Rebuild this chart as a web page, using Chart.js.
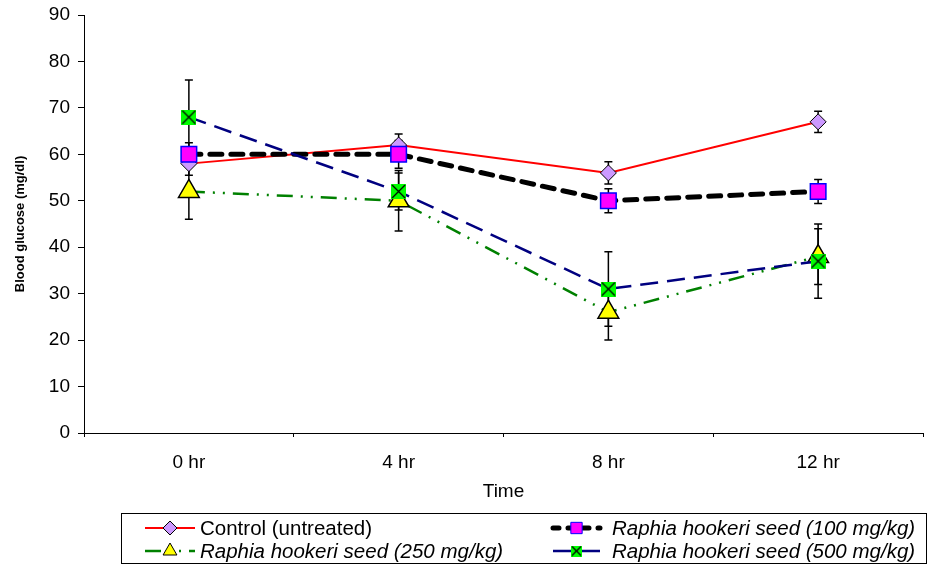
<!DOCTYPE html>
<html>
<head>
<meta charset="utf-8">
<script src="https://cdn.jsdelivr.net/npm/chart.js@4/dist/chart.umd.min.js"></script>
<style>
  html, body { margin: 0; padding: 0; background: #fff; overflow: hidden; }
  #wrap { width: 928px; height: 565px; }
  canvas { display: block; }
</style>
</head>
<body>
<div id="wrap"><canvas id="glucoseChart" width="928" height="565"></canvas></div>
<script>
// data
var categories = ['0 hr', '4 hr', '8 hr', '12 hr'];
var seriesNames = ['Control (untreated)', 'Raphia hookeri seed (100 mg/kg)',
                   'Raphia hookeri seed (250 mg/kg)', 'Raphia hookeri seed (500 mg/kg)'];
var control = [58, 62, 56, 67];
var controlErr = [2.5, 2.4, 2.4, 2.3];
var dose100 = [60, 60, 50, 52];
var dose100Err = [2.5, 3, 2.6, 2.6];
var dose250 = [52, 50, 26, 38];
var dose250Err = [6, 6.5, 6, 6];
var dose500 = [68, 52, 31, 37];
var dose500Err = [8, 4, 8, 8];
var yTicks = [0, 10, 20, 30, 40, 50, 60, 70, 80, 90];

var FONT = "'Liberation Sans', Arial, sans-serif";

// green square with a black cross, like the excel marker
function crossSquare(size) {
    var c = document.createElement('canvas');
    c.width = size; c.height = size;
    var g = c.getContext('2d');
    g.fillStyle = '#00FF00';
    g.fillRect(0, 0, size, size);
    g.strokeStyle = '#000';
    g.lineWidth = 1.3;
    g.beginPath();
    g.moveTo(1, 1); g.lineTo(size - 1, size - 1);
    g.moveTo(size - 1, 1); g.lineTo(1, size - 1);
    g.stroke();
    return c;
}
var crossBig = crossSquare(15);
var crossSmall = crossSquare(11);

var errors = [controlErr, dose100Err, dose250Err, dose500Err];

var errorBars = {
    id: 'errorBars',
    beforeDatasetsDraw: function(chart) {
        var ctx = chart.ctx;
        var y = chart.scales.y;
        ctx.save();
        ctx.strokeStyle = '#000';
        ctx.lineWidth = 1.5;
        chart.data.datasets.forEach(function(ds, i) {
            var meta = chart.getDatasetMeta(i);
            meta.data.forEach(function(pt, j) {
                var v = ds.data[j], e = errors[i][j];
                var top = y.getPixelForValue(v + e), bot = y.getPixelForValue(v - e);
                ctx.beginPath();
                ctx.moveTo(pt.x, top); ctx.lineTo(pt.x, bot);
                ctx.moveTo(pt.x - 4, top); ctx.lineTo(pt.x + 4, top);
                ctx.moveTo(pt.x - 4, bot); ctx.lineTo(pt.x + 4, bot);
                ctx.stroke();
            });
        });
        ctx.restore();
    }
};

var boxLegend = {
    id: 'boxLegend',
    afterDraw: function(chart) {
        var ctx = chart.ctx;
        ctx.save();
        ctx.strokeStyle = '#000';
        ctx.lineWidth = 1;
        ctx.strokeRect(121.5, 513.5, 805, 50);
        var slots = [
            {x0: 145, x1: 195, tx: 200, y: 528},
            {x0: 553, x1: 600, tx: 612, y: 528},
            {x0: 145, x1: 195, tx: 200, y: 551},
            {x0: 553, x1: 600, tx: 612, y: 551}
        ];
        chart.data.datasets.forEach(function(ds, i) {
            var s = slots[i];
            ctx.save();
            ctx.strokeStyle = ds.borderColor;
            ctx.lineWidth = ds.borderWidth;
            ctx.lineCap = ds.borderCapStyle || 'butt';
            ctx.setLineDash(ds.legendDash || []);
            ctx.beginPath();
            ctx.moveTo(s.x0, s.y); ctx.lineTo(s.x1, s.y);
            ctx.stroke();
            ctx.restore();
            var style = ds.pointStyle === crossBig ? crossSmall : ds.pointStyle;
            ctx.fillStyle = ds.pointBackgroundColor;
            ctx.strokeStyle = ds.pointBorderColor;
            ctx.lineWidth = 1;
            ctx.setLineDash([]);
            Chart.helpers.drawPoint(ctx, {pointStyle: style, radius: ds.legendRadius, borderWidth: 1, rotation: 0},
                (s.x0 + s.x1) / 2, s.y);
            ctx.fillStyle = '#000';
            ctx.font = (i === 0 ? '' : 'italic ') + '20.5px ' + FONT;
            ctx.textBaseline = 'middle';
            ctx.textAlign = 'left';
            ctx.fillText(seriesNames[i], s.tx, s.y + 1);
        });
        ctx.restore();
    }
};

var ctx = document.getElementById('glucoseChart').getContext('2d');
var chart = new Chart(ctx, {
    type: 'line',
    data: {
        labels: categories,
        datasets: [{
            label: seriesNames[0],
            data: control,
            order: 4,
            borderColor: '#FF0000',
            borderWidth: 2,
            pointStyle: 'rectRot',
            pointRadius: 8,
            pointBackgroundColor: '#CC99FF',
            pointBorderColor: '#000',
            pointBorderWidth: 1,
            legendRadius: 7
        }, {
            label: seriesNames[1],
            data: dose100,
            order: 3,
            borderColor: '#000',
            borderWidth: 5,
            borderDash: [12, 9],
            borderCapStyle: 'round',
            legendDash: [6, 9],
            pointStyle: 'rect',
            pointRadius: 11,
            pointBackgroundColor: '#FF00FF',
            pointBorderColor: '#0000FF',
            pointBorderWidth: 1.5,
            legendRadius: 8
        }, {
            label: seriesNames[2],
            data: dose250,
            order: 2,
            borderColor: '#008000',
            borderWidth: 2.5,
            borderDash: [16, 8, 2, 8, 2, 8],
            legendDash: [16, 8, 2, 8, 2, 8],
            pointStyle: 'triangle',
            pointRadius: 12,
            pointBackgroundColor: '#FFFF00',
            pointBorderColor: '#000',
            pointBorderWidth: 1.5,
            legendRadius: 8
        }, {
            label: seriesNames[3],
            data: dose500,
            order: 1,
            borderColor: '#000080',
            borderWidth: 2.5,
            borderDash: [18, 9],
            legendDash: [],
            pointStyle: crossBig,
            pointRadius: 8,
            pointBackgroundColor: '#00FF00',
            pointBorderColor: '#000',
            legendRadius: 6
        }]
    },
    options: {
        responsive: false,
        animation: false,
        events: [],
        layout: { autoPadding: false, padding: { top: 15, right: 5, bottom: 60, left: 0 } },
        plugins: { legend: { display: false }, tooltip: { enabled: false } },
        scales: {
            x: {
                offset: true,
                afterFit: function(scale) {
                    scale.height = 72;
                    scale.paddingLeft = 0;
                    scale.paddingRight = 0;
                },
                grid: { offset: true, drawOnChartArea: false, tickLength: 4, color: '#000' },
                border: { color: '#000', width: 1 },
                ticks: { color: '#000', padding: 14, font: { family: FONT, size: 19 } },
                title: { display: true, text: 'Time', color: '#000', padding: { top: 0, bottom: 2 },
                         font: { family: FONT, size: 19 } }
            },
            y: {
                min: 0, max: 90,
                afterFit: function(scale) {
                    scale.width = 84;
                    scale.paddingTop = 0;
                    scale.paddingBottom = 0;
                },
                afterBuildTicks: function(scale) {
                    scale.ticks = yTicks.map(function(v) { return { value: v }; });
                },
                grid: { drawOnChartArea: false, tickLength: 6, color: '#000' },
                border: { color: '#000', width: 1 },
                ticks: { color: '#000', padding: 8, font: { family: FONT, size: 19 } },
                title: { display: true, text: 'Blood glucose (mg/dl)', color: '#000',
                         padding: { top: 13, bottom: 0 },
                         font: { family: FONT, size: 13, weight: 'bold' } }
            }
        }
    },
    plugins: [errorBars, boxLegend]
});
</script>
</body>
</html>
